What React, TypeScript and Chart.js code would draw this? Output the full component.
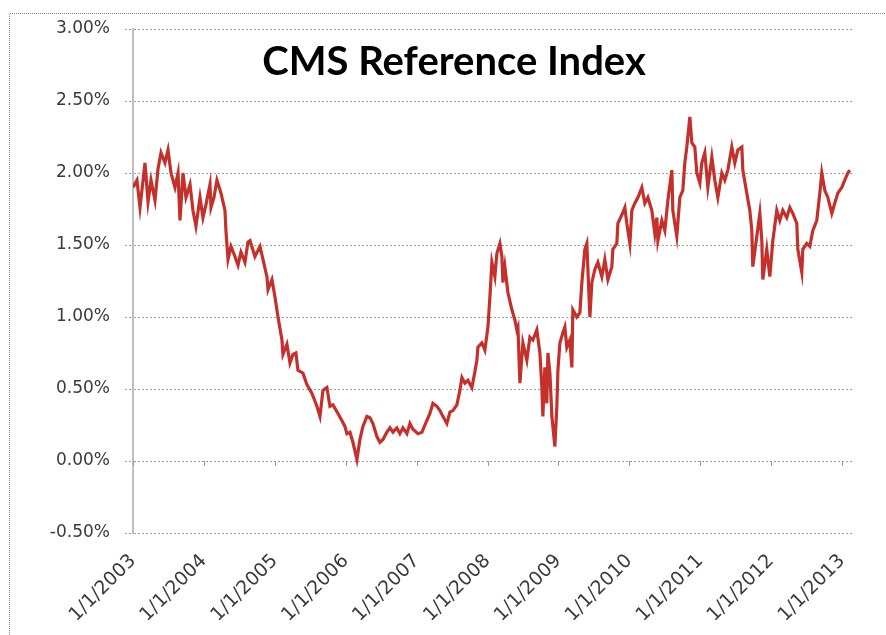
import React, { useEffect, useRef } from "react";
import { Chart, registerables } from "chart.js";

Chart.register(...registerables);

const TITLE = "CMS Reference Index";
const SERIES_LABEL = "CMS Reference Index";

// decimal years
const DATES = [
  2003.000, 2003.056, 2003.099, 2003.169, 2003.212, 2003.254, 2003.310, 2003.353, 2003.395, 2003.451,
  2003.494, 2003.536, 2003.592, 2003.635, 2003.663, 2003.705, 2003.747, 2003.804, 2003.846, 2003.888,
  2003.945, 2003.987, 2004.029, 2004.086, 2004.100, 2004.142, 2004.184, 2004.241, 2004.297, 2004.311,
  2004.340, 2004.382, 2004.438, 2004.481, 2004.523, 2004.579, 2004.622, 2004.650, 2004.720, 2004.791,
  2004.833, 2004.889, 2004.904, 2004.960, 2005.002, 2005.045, 2005.101, 2005.115, 2005.171, 2005.214,
  2005.256, 2005.298, 2005.327, 2005.397, 2005.453, 2005.524, 2005.594, 2005.637, 2005.679, 2005.735,
  2005.778, 2005.820, 2005.891, 2005.947, 2005.989, 2006.017, 2006.060, 2006.102, 2006.158, 2006.201,
  2006.243, 2006.299, 2006.342, 2006.384, 2006.440, 2006.483, 2006.525, 2006.581, 2006.624, 2006.666,
  2006.722, 2006.765, 2006.807, 2006.863, 2006.906, 2006.948, 2007.019, 2007.075, 2007.117, 2007.188,
  2007.230, 2007.286, 2007.329, 2007.371, 2007.427, 2007.470, 2007.512, 2007.568, 2007.611, 2007.639,
  2007.681, 2007.724, 2007.780, 2007.822, 2007.850, 2007.865, 2007.921, 2007.963, 2008.006, 2008.034,
  2008.062, 2008.104, 2008.132, 2008.175, 2008.203, 2008.217, 2008.245, 2008.288, 2008.344, 2008.386,
  2008.414, 2008.429, 2008.457, 2008.499, 2008.555, 2008.598, 2008.640, 2008.696, 2008.739, 2008.767,
  2008.781, 2008.809, 2008.837, 2008.852, 2008.880, 2008.908, 2008.950, 2008.978, 2008.993, 2009.021,
  2009.063, 2009.091, 2009.119, 2009.162, 2009.190, 2009.204, 2009.260, 2009.303, 2009.331, 2009.373,
  2009.401, 2009.444, 2009.472, 2009.514, 2009.557, 2009.613, 2009.655, 2009.698, 2009.754, 2009.768,
  2009.824, 2009.839, 2009.895, 2009.937, 2009.965, 2010.008, 2010.036, 2010.078, 2010.121, 2010.177,
  2010.219, 2010.262, 2010.318, 2010.360, 2010.388, 2010.403, 2010.459, 2010.501, 2010.544, 2010.600,
  2010.614, 2010.670, 2010.713, 2010.755, 2010.783, 2010.811, 2010.854, 2010.882, 2010.924, 2010.952,
  2010.995, 2011.023, 2011.065, 2011.108, 2011.164, 2011.206, 2011.249, 2011.305, 2011.347, 2011.390,
  2011.446, 2011.488, 2011.531, 2011.587, 2011.601, 2011.657, 2011.700, 2011.728, 2011.742, 2011.798,
  2011.841, 2011.869, 2011.883, 2011.939, 2011.982, 2012.024, 2012.080, 2012.123, 2012.165, 2012.221,
  2012.264, 2012.306, 2012.362, 2012.377, 2012.433, 2012.447, 2012.503, 2012.546, 2012.588, 2012.644,
  2012.687, 2012.715, 2012.757, 2012.800, 2012.856, 2012.898, 2012.941, 2012.997, 2013.039, 2013.082,
  2013.110,
];

// percent
const RATES = [
  1.90, 1.95, 1.76, 2.07, 1.80, 1.95, 1.81, 2.03, 2.14, 2.07,
  2.16, 2.00, 1.90, 2.00, 1.67, 2.00, 1.83, 1.92, 1.74, 1.63,
  1.83, 1.69, 1.78, 1.92, 1.76, 1.83, 1.95, 1.86, 1.74, 1.60,
  1.40, 1.49, 1.42, 1.36, 1.45, 1.38, 1.52, 1.53, 1.42, 1.49,
  1.40, 1.28, 1.19, 1.26, 1.14, 1.00, 0.84, 0.74, 0.81, 0.68,
  0.74, 0.75, 0.63, 0.61, 0.53, 0.47, 0.38, 0.31, 0.49, 0.51,
  0.38, 0.39, 0.33, 0.28, 0.24, 0.19, 0.20, 0.13, 0.01, 0.15,
  0.24, 0.31, 0.30, 0.26, 0.17, 0.13, 0.15, 0.20, 0.23, 0.20,
  0.23, 0.19, 0.23, 0.19, 0.26, 0.22, 0.19, 0.20, 0.25, 0.33,
  0.40, 0.38, 0.35, 0.31, 0.26, 0.34, 0.35, 0.39, 0.49, 0.58,
  0.54, 0.56, 0.51, 0.62, 0.70, 0.79, 0.82, 0.77, 0.93, 1.14,
  1.38, 1.28, 1.44, 1.51, 1.42, 1.24, 1.35, 1.17, 1.05, 0.98,
  0.91, 0.93, 0.54, 0.82, 0.70, 0.86, 0.84, 0.91, 0.75, 0.51,
  0.31, 0.65, 0.40, 0.75, 0.61, 0.31, 0.10, 0.38, 0.63, 0.82,
  0.89, 0.93, 0.79, 0.84, 0.65, 1.05, 1.00, 1.03, 1.24, 1.47,
  1.51, 1.00, 1.24, 1.33, 1.38, 1.28, 1.40, 1.26, 1.35, 1.47,
  1.51, 1.65, 1.71, 1.76, 1.65, 1.51, 1.74, 1.79, 1.83, 1.90,
  1.79, 1.83, 1.74, 1.58, 1.69, 1.53, 1.67, 1.60, 1.81, 2.02,
  1.74, 1.56, 1.83, 1.88, 2.07, 2.18, 2.39, 2.21, 2.18, 2.00,
  1.93, 2.07, 2.14, 1.90, 2.11, 1.95, 1.83, 2.00, 1.95, 2.02,
  2.18, 2.07, 2.16, 2.18, 2.02, 1.86, 1.74, 1.60, 1.35, 1.56,
  1.72, 1.53, 1.26, 1.47, 1.28, 1.53, 1.74, 1.67, 1.74, 1.69,
  1.76, 1.72, 1.65, 1.47, 1.31, 1.47, 1.51, 1.49, 1.60, 1.67,
  1.86, 2.00, 1.88, 1.83, 1.72, 1.79, 1.86, 1.90, 1.95, 2.00,
  2.02,
];

const X_TICK_YEARS = [2003, 2004, 2005, 2006, 2007, 2008, 2009, 2010, 2011, 2012, 2013];
const X_MIN = 2003;
const X_MAX = 2013.141;
const Y_MIN = -0.5;
const Y_MAX = 3.0;
const Y_STEP = 0.5;

const LINE_COLOR = "#c4302b";
const Y_TICK_FONT = { family: "'DejaVu Sans', sans-serif", size: 17 };
const X_TICK_FONT = { family: "'DejaVu Sans', sans-serif", size: 19 };

const decorPlugin = {
  id: "decor",
  beforeDraw(chart: any) {
    const ctx = chart.ctx;
    ctx.save();
    ctx.fillStyle = "#ffffff";
    ctx.fillRect(0, 0, chart.width, chart.height);
    ctx.strokeStyle = "#8a8a8a";
    ctx.lineWidth = 1;
    ctx.setLineDash([1, 1]);
    ctx.beginPath();
    ctx.moveTo(9.5, chart.height);
    ctx.lineTo(9.5, 13.5);
    ctx.lineTo(chart.width, 13.5);
    ctx.stroke();
    ctx.restore();
  },
  afterDraw(chart: any) {
    const ctx = chart.ctx;
    const xs = chart.scales.x;
    const ys = chart.scales.y;
    const y0 = ys.getPixelForValue(0);
    ctx.save();
    ctx.strokeStyle = "#9a9a9a";
    ctx.lineWidth = 1;
    for (const t of xs.ticks) {
      const px = Math.round(xs.getPixelForValue(t.value)) + 0.5;
      ctx.beginPath();
      ctx.moveTo(px, y0);
      ctx.lineTo(px, y0 + 5);
      ctx.stroke();
    }
    ctx.fillStyle = "#000000";
    ctx.font = "bold 40px Lato, 'Open Sans', sans-serif";
    ctx.textAlign = "center";
    ctx.textBaseline = "alphabetic";
    ctx.fillText(TITLE, 454, 75);
    ctx.restore();
  },
};

export default function App() {
  const ref = useRef<HTMLCanvasElement | null>(null);
  useEffect(() => {
    if (!ref.current) return;
    const points = DATES.map((d, i) => ({ x: d, y: RATES[i] }));
    const chart = new Chart(ref.current, {
      type: "line",
      data: {
        datasets: [
          {
            label: SERIES_LABEL,
            data: points,
            borderColor: LINE_COLOR,
            borderWidth: 3.2,
            pointRadius: 0,
            tension: 0,
            fill: false,
          },
        ],
      },
      options: {
        animation: false,
        responsive: false,
        devicePixelRatio: 1,
        layout: { padding: { top: 29, right: 34, left: 0, bottom: 0 } },
        plugins: { legend: { display: false }, tooltip: { enabled: false }, title: { display: false } },
        scales: {
          x: {
            type: "linear",
            min: X_MIN,
            max: X_MAX,
            afterBuildTicks: (scale: any) => {
              scale.ticks = X_TICK_YEARS.map((v) => ({ value: v }));
            },
            afterFit: (scale: any) => {
              scale.height = 102;
            },
            grid: { display: false, drawTicks: false },
            border: { display: false },
            ticks: {
              minRotation: 45,
              maxRotation: 45,
              autoSkip: false,
              padding: 17,
              color: "#3a3a3a",
              font: X_TICK_FONT,
              callback: (v: any) => "1/1/" + v,
            },
          },
          y: {
            min: Y_MIN,
            max: Y_MAX,
            afterFit: (scale: any) => {
              scale.width = 133;
            },
            grid: {
              color: "#9c9c9c",
              lineWidth: 1,
              tickLength: 8,
              tickColor: "#9c9c9c",
              tickBorderDash: [2, 2],
            },
            border: { display: true, color: "#c0c0c0", width: 2, dash: [2, 2] },
            ticks: {
              stepSize: Y_STEP,
              padding: 15,
              color: "#3a3a3a",
              font: Y_TICK_FONT,
              callback: (v: any) => Number(v).toFixed(2) + "%",
            },
          },
        },
      },
      plugins: [decorPlugin],
    });
    return () => chart.destroy();
  }, []);
  return (
    <div style={{ position: "fixed", left: 0, top: 0, width: 886, height: 635, background: "#fff" }}>
      <canvas ref={ref} width={886} height={635} style={{ display: "block" }} />
    </div>
  );
}
